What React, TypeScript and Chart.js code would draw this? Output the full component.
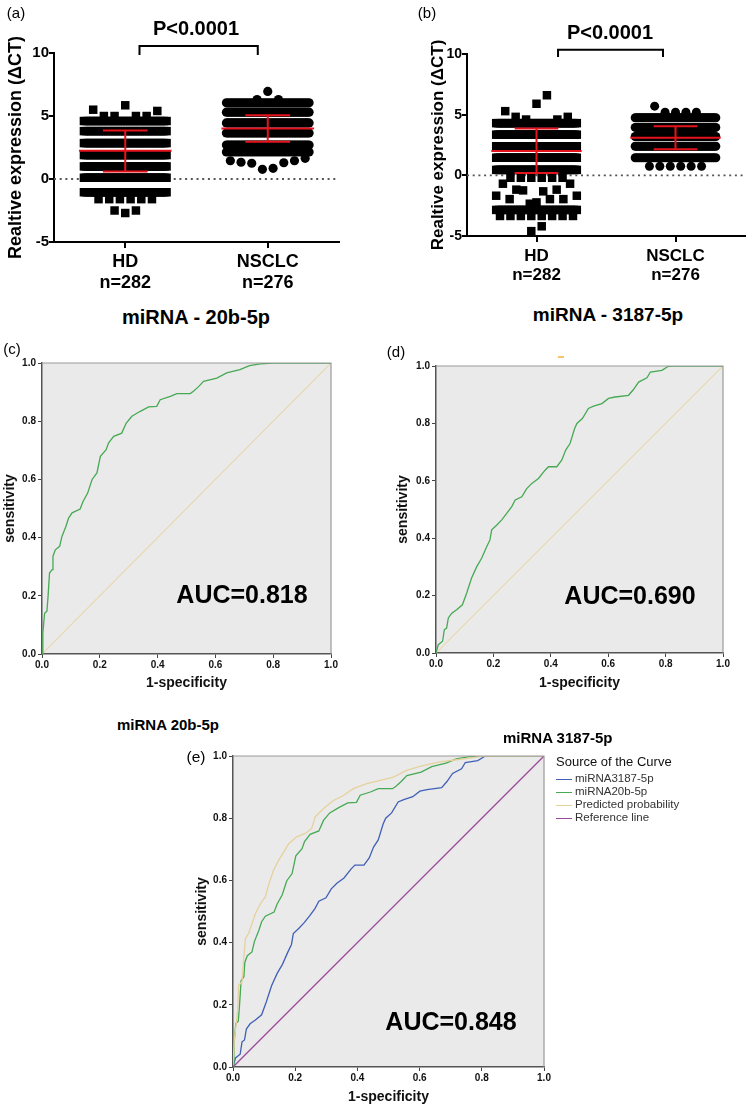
import React, { useEffect, useRef } from 'react';
import { Chart, registerables } from 'chart.js';

Chart.register(...registerables);

const FONT = 'Arial, "Liberation Sans", Helvetica, sans-serif';

// ---------------- data: dot plots ----------------
const groups = ['HD', 'NSCLC'];
const groupSizes = ['n=282', 'n=276'];
const dotTicks = [-5, 0, 5, 10];

// panel (a) miRNA-20b-5p : dense ΔCT rows (value, count) + sparse rows (values left to right)
const hdLevelsA = [4.6, 3.8, 2.85, 1.9, 1.0, 0.1, -1.05, -1.6];
const hdCountsA = [31, 35, 40, 40, 40, 40, 40, 6];
const hdSparseA = [
  [5.5, 5.0, 5.0, 5.85, 5.0, 5.0, 5.4],
  [-2.5, -2.7, -2.5],
];
const nsLevelsA = [6.05, 5.3, 4.45, 3.65, 2.7, 2.15];
const nsCountsA = [35, 48, 51, 51, 51, 29];
const nsSparseA = [
  [6.3, 6.95, 6.3],
  [1.45, 1.33, 1.25, 0.77, 0.85, 1.29, 1.45, 1.64],
];
const meansA = [2.25, 4.0];
const sdHighA = [3.85, 5.05];
const sdLowA = [0.6, 2.95];

// panel (b) miRNA-3187-5p
const hdLevelsB = [4.3, 3.35, 2.4, 1.45, 0.45, -0.2, -2.85, -3.35];
const hdCountsB = [41, 44, 44, 44, 45, 6, 28, 8];
const hdSparseB = [
  [5.29, 4.82, 4.6, 5.9, 6.6, 4.6, 4.82],
  [-1.68, -0.69, -1.96, -1.18, -1.24, -2.34, -2.23, -1.32, -1.96, -1.18, -1.96, -0.69, -1.68],
  [-4.6, -4.2],
];
const nsLevelsB = [4.75, 3.95, 3.2, 2.4, 1.45, 0.75];
const nsCountsB = [55, 60, 55, 55, 40, 6];
const nsSparseB = [[5.7, 5.2, 5.2, 5.2, 5.2]];
const meansB = [2.0, 3.1];
const sdHighB = [3.85, 4.05];
const sdLowB = [0.2, 2.15];

// ---------------- data: ROC curves ----------------
const rocTicks = [0, 0.2, 0.4, 0.6, 0.8, 1.0];
const fpr20b = [0, 0.003, 0.009, 0.017, 0.021, 0.026, 0.035, 0.038, 0.046, 0.061, 0.069, 0.083, 0.092, 0.104, 0.132, 0.142, 0.158, 0.173, 0.19, 0.202, 0.222, 0.23, 0.248, 0.276, 0.291, 0.311, 0.34, 0.369, 0.397, 0.409, 0.444, 0.467, 0.513, 0.524, 0.541, 0.559, 0.605, 0.639, 0.685, 0.718, 0.755, 0.8, 1];
const tpr20b = [0, 0.072, 0.14, 0.147, 0.198, 0.278, 0.29, 0.336, 0.358, 0.37, 0.404, 0.439, 0.467, 0.485, 0.498, 0.524, 0.553, 0.599, 0.622, 0.679, 0.702, 0.725, 0.748, 0.759, 0.793, 0.817, 0.834, 0.849, 0.851, 0.874, 0.885, 0.895, 0.895, 0.903, 0.918, 0.937, 0.948, 0.966, 0.977, 0.991, 0.997, 1, 1];
const fpr3187 = [0, 0.008, 0.023, 0.029, 0.037, 0.043, 0.055, 0.072, 0.092, 0.107, 0.124, 0.142, 0.159, 0.177, 0.188, 0.194, 0.212, 0.229, 0.247, 0.264, 0.276, 0.299, 0.316, 0.334, 0.357, 0.38, 0.392, 0.421, 0.438, 0.452, 0.467, 0.483, 0.491, 0.51, 0.531, 0.549, 0.578, 0.601, 0.624, 0.671, 0.688, 0.706, 0.735, 0.747, 0.787, 0.81, 0.826, 1];
const tpr3187 = [0, 0.029, 0.041, 0.081, 0.087, 0.122, 0.139, 0.151, 0.168, 0.209, 0.261, 0.301, 0.33, 0.371, 0.394, 0.429, 0.446, 0.464, 0.487, 0.51, 0.533, 0.544, 0.573, 0.591, 0.608, 0.637, 0.649, 0.649, 0.672, 0.707, 0.73, 0.782, 0.8, 0.817, 0.852, 0.86, 0.869, 0.887, 0.892, 0.898, 0.918, 0.944, 0.959, 0.979, 0.985, 0.999, 1, 1];
const fprPred = [0, 0.004, 0.011, 0.015, 0.018, 0.029, 0.034, 0.04, 0.05, 0.061, 0.072, 0.088, 0.104, 0.114, 0.13, 0.147, 0.163, 0.179, 0.205, 0.232, 0.253, 0.264, 0.291, 0.323, 0.355, 0.387, 0.43, 0.473, 0.516, 0.558, 0.601, 0.665, 0.719, 0.772, 0.804, 1];
const tprPred = [0, 0.086, 0.145, 0.182, 0.263, 0.273, 0.343, 0.413, 0.429, 0.461, 0.493, 0.525, 0.547, 0.584, 0.632, 0.665, 0.691, 0.718, 0.74, 0.751, 0.767, 0.804, 0.831, 0.857, 0.873, 0.895, 0.911, 0.922, 0.932, 0.954, 0.967, 0.981, 0.988, 0.995, 1, 1];
const fprRef = [0, 1];
const tprRef = [0, 1];

const legendLabels = ['miRNA3187-5p', 'miRNA20b-5p', 'Predicted probability', 'Reference line'];
const legendColors = ['#4060b6', '#46a953', '#e5d19c', '#9b4b97'];

// ---------------- helpers ----------------
const STEP = 0.075;
const MAX_HALF = 0.29;
const MEAN_HALF = 0.325;
const CAP_HALF = 0.157;

function placeRow(center: number, values: number[], pts: { x: number; y: number }[]) {
  const n = values.length;
  const half = Math.min(MAX_HALF, (STEP * (n - 1)) / 2);
  values.forEach((v, k) => {
    const off = n === 1 ? 0 : -half + (2 * half * k) / (n - 1);
    pts.push({ x: center + off, y: v });
  });
}

function swarm(center: number, levels: number[], counts: number[], sparse: number[][]) {
  const pts: { x: number; y: number }[] = [];
  levels.forEach((v, i) => placeRow(center, new Array(counts[i]).fill(v), pts));
  sparse.forEach((row) => placeRow(center, row, pts));
  return pts;
}

function zip(xs: number[], ys: number[]) {
  return xs.map((x, i) => ({ x, y: ys[i] }));
}

function segment(data: { x: number; y: number }[], color: string, width: number, order: number, extra: any = {}) {
  return {
    data,
    showLine: true,
    pointRadius: 0,
    borderColor: color,
    borderWidth: width,
    tension: 0,
    order,
    ...extra,
  };
}

function makeDotConfig(o: any) {
  const red = '#e5131c';
  const datasets: any[] = [];
  [1, 2].forEach((c, i) => {
    datasets.push(segment([{ x: c - MEAN_HALF, y: o.means[i] }, { x: c + MEAN_HALF, y: o.means[i] }], red, 2, 0));
    datasets.push(segment([{ x: c - CAP_HALF, y: o.hi[i] }, { x: c + CAP_HALF, y: o.hi[i] }], red, 2, 0));
    datasets.push(segment([{ x: c - CAP_HALF, y: o.lo[i] }, { x: c + CAP_HALF, y: o.lo[i] }], red, 2, 0));
    datasets.push(segment([{ x: c, y: o.lo[i] }, { x: c, y: o.hi[i] }], red, 2, 0));
  });
  datasets.push({
    data: swarm(1, o.hdLevels, o.hdCounts, o.hdSparse),
    pointStyle: 'rect',
    pointRadius: o.sqR,
    backgroundColor: '#000',
    borderWidth: 0,
    order: 1,
  });
  datasets.push({
    data: swarm(2, o.nsLevels, o.nsCounts, o.nsSparse),
    pointStyle: 'circle',
    pointRadius: o.cirR,
    backgroundColor: '#000',
    borderWidth: 0,
    order: 1,
  });
  datasets.push(segment([{ x: 0.5, y: 0 }, { x: 2.5, y: 0 }], '#555', 1.8, 2, { borderDash: [2, 3.7] }));
  const b = o.bracket;
  datasets.push(
    segment(
      [{ x: b[0], y: b[2] }, { x: b[0], y: b[3] }, { x: b[1], y: b[3] }, { x: b[1], y: b[2] }],
      '#000', 2, 0, { clip: false }
    )
  );
  return {
    type: 'scatter',
    data: { datasets },
    options: {
      responsive: false,
      animation: false,
      devicePixelRatio: 1,
      layout: { padding: { left: 0, top: o.T, right: o.R, bottom: 0 } },
      plugins: { legend: { display: false }, tooltip: { enabled: false } },
      scales: {
        x: {
          type: 'linear',
          min: 0.5,
          max: 2.5,
          afterBuildTicks: (a: any) => { a.ticks = [1, 2].map((v) => ({ value: v })); },
          afterFit: (s: any) => { s.height = o.H; },
          ticks: {
            callback: (v: number) => [groups[v - 1], groupSizes[v - 1]],
            font: { family: FONT, size: o.xLabSize, weight: 'bold', lineHeight: o.xLabLH },
            color: '#000',
            padding: o.xPad,
            maxRotation: 0,
            autoSkip: false,
          },
          grid: { drawOnChartArea: false, drawTicks: true, tickLength: 6, color: '#000', lineWidth: 2 },
          border: { display: true, color: '#000', width: 2 },
        },
        y: {
          type: 'linear',
          min: -5,
          max: 10,
          afterBuildTicks: (a: any) => { a.ticks = dotTicks.map((v) => ({ value: v })); },
          afterFit: (s: any) => { s.width = o.W; },
          ticks: {
            font: { family: FONT, size: o.tickSize, weight: 'bold' },
            color: '#000',
            padding: 0,
          },
          grid: { drawOnChartArea: false, drawTicks: true, tickLength: 5, color: '#000', lineWidth: 2 },
          border: { display: true, color: '#000', width: 2 },
          title: {
            display: true,
            text: 'Realtive expression (ΔCT)',
            font: { family: FONT, size: o.titleSize, weight: 'bold' },
            color: '#000',
            padding: { top: o.yTitlePad, bottom: 0 },
          },
        },
      },
    },
  };
}

const plotBg = {
  id: 'plotBg',
  beforeDraw(chart: any) {
    const { ctx, chartArea: a } = chart;
    ctx.save();
    ctx.fillStyle = '#ebeaeb';
    ctx.fillRect(a.left, a.top, a.right - a.left, a.bottom - a.top);
    ctx.restore();
  },
  afterDraw(chart: any) {
    const { ctx, chartArea: a } = chart;
    ctx.save();
    ctx.strokeStyle = '#9a9a9a';
    ctx.lineWidth = 1.2;
    ctx.beginPath();
    ctx.moveTo(a.left, a.top);
    ctx.lineTo(a.right, a.top);
    ctx.lineTo(a.right, a.bottom);
    ctx.stroke();
    ctx.restore();
  },
};

function makeRocConfig(o: any) {
  const datasets = o.curves.map((c: any, i: number) =>
    segment(zip(c.x, c.y), c.color, c.width || 1.3, c.order ?? i)
  );
  const tickFont = { family: FONT, size: 10, weight: 'bold' };
  const titleFont = { family: FONT, size: 14, weight: 'bold' };
  return {
    type: 'scatter',
    data: { datasets },
    plugins: [plotBg],
    options: {
      responsive: false,
      animation: false,
      devicePixelRatio: 1,
      layout: { padding: { left: 0, top: o.T, right: o.R, bottom: 0 } },
      plugins: { legend: { display: false }, tooltip: { enabled: false } },
      scales: {
        x: {
          type: 'linear',
          min: 0,
          max: 1,
          afterBuildTicks: (a: any) => { a.ticks = rocTicks.map((v) => ({ value: v })); },
          afterFit: (s: any) => { s.height = o.H; },
          ticks: { callback: (v: number) => v.toFixed(1), font: tickFont, color: '#111', padding: 1, maxRotation: 0 },
          grid: { drawOnChartArea: false, drawTicks: true, tickLength: 4, color: '#444', lineWidth: 1 },
          border: { display: true, color: '#555', width: 1.5 },
          title: { display: true, text: '1-specificity', font: titleFont, color: '#111', padding: { top: 0, bottom: o.xPad } },
        },
        y: {
          type: 'linear',
          min: 0,
          max: 1,
          afterBuildTicks: (a: any) => { a.ticks = rocTicks.map((v) => ({ value: v })); },
          afterFit: (s: any) => { s.width = o.W; },
          ticks: { callback: (v: number) => v.toFixed(1), font: tickFont, color: '#111', padding: 2 },
          grid: { drawOnChartArea: false, drawTicks: true, tickLength: 4, color: '#444', lineWidth: 1 },
          border: { display: true, color: '#555', width: 1.5 },
          title: { display: true, text: 'sensitivity', font: titleFont, color: '#111', padding: { top: o.yPad, bottom: 0 } },
        },
      },
    },
  };
}

function ChartBox({ left, top, width, height, config }: any) {
  const ref = useRef<HTMLCanvasElement | null>(null);
  useEffect(() => {
    const c = new Chart(ref.current as HTMLCanvasElement, config);
    return () => c.destroy();
  }, []);
  return (
    <div style={{ position: 'absolute', left, top, width, height }}>
      <canvas ref={ref} width={width} height={height} style={{ width, height, display: 'block' }} />
    </div>
  );
}

function T({ x, y, size, bold = false, align = 'center', color = '#000', children }: any) {
  const tx = align === 'center' ? '-50%' : align === 'right' ? '-100%' : '0';
  return (
    <div
      style={{
        position: 'absolute',
        left: x,
        top: y,
        transform: `translate(${tx}, -50%)`,
        fontFamily: FONT,
        fontSize: size,
        fontWeight: bold ? 700 : 400,
        lineHeight: 1,
        whiteSpace: 'nowrap',
        color,
      }}
    >
      {children}
    </div>
  );
}

const configA = makeDotConfig({
  hdLevels: hdLevelsA, hdCounts: hdCountsA, hdSparse: hdSparseA,
  nsLevels: nsLevelsA, nsCounts: nsCountsA, nsSparse: nsSparseA,
  means: meansA, hi: sdHighA, lo: sdLowA,
  W: 54, T: 53, R: 36, H: 58, yTitlePad: 5.2, titleSize: 18, tickSize: 15,
  xLabSize: 18, xLabLH: 1.2, xPad: 3, sqR: 6, cirR: 4.6, bracket: [1.1, 1.93, 9.85, 10.55],
});
const configB = makeDotConfig({
  hdLevels: hdLevelsB, hdCounts: hdCountsB, hdSparse: hdSparseB,
  nsLevels: nsLevelsB, nsCounts: nsCountsB, nsSparse: nsSparseB,
  means: meansB, hi: sdHighB, lo: sdLowB,
  W: 92, T: 54, R: 6, H: 64, yTitlePad: 52.8, titleSize: 17, tickSize: 14,
  xLabSize: 17, xLabLH: 1.1, xPad: 5, sqR: 6, cirR: 4.5, bracket: [1.155, 1.91, 9.75, 10.35],
});
const configC = makeRocConfig({
  W: 42, T: 33, R: 44, H: 46, yPad: 1.6, xPad: 8.6,
  curves: [
    { x: fpr20b, y: tpr20b, color: '#46a953', order: 0 },
    { x: fprRef, y: tprRef, color: '#e8d6ad', order: 1, width: 1.1 },
  ],
});
const configD = makeRocConfig({
  W: 61, T: 36, R: 28, H: 47, yPad: 19.6, xPad: 8.6,
  curves: [
    { x: fpr3187, y: tpr3187, color: '#46a953', order: 0 },
    { x: fprRef, y: tprRef, color: '#e8d6ad', order: 1, width: 1.1 },
  ],
});
const configE = makeRocConfig({
  W: 53, T: 16, R: 16, H: 40, yPad: 13.6, xPad: 1.6,
  curves: [
    { x: fpr3187, y: tpr3187, color: legendColors[0], order: 3 },
    { x: fpr20b, y: tpr20b, color: legendColors[1], order: 2 },
    { x: fprPred, y: tprPred, color: legendColors[2], order: 1 },
    { x: fprRef, y: tprRef, color: legendColors[3], order: 0 },
  ],
});

export default function App() {
  useEffect(() => {
    document.body.style.margin = '0';
  }, []);
  return (
    <div style={{ position: 'relative', width: 751, height: 1107, background: '#fff', overflow: 'hidden' }}>
      <ChartBox left={0} top={0} width={375} height={300} config={configA} />
      <ChartBox left={375} top={0} width={376} height={300} config={configB} />
      <ChartBox left={0} top={330} width={375} height={370} config={configC} />
      <ChartBox left={375} top={330} width={376} height={370} config={configD} />
      <ChartBox left={180} top={740} width={380} height={367} config={configE} />

      <T x={16} y={12} size={15}>(a)</T>
      <T x={427} y={12} size={15}>(b)</T>
      <T x={196} y={28} size={20} bold>P&lt;0.0001</T>
      <T x={610} y={32} size={20} bold>P&lt;0.0001</T>
      <T x={196} y={317} size={20} bold>miRNA - 20b-5p</T>
      <T x={608} y={314} size={19} bold>miRNA - 3187-5p</T>

      <T x={12} y={348} size={15}>(c)</T>
      <T x={396} y={351} size={15}>(d)</T>
      <div style={{ position: 'absolute', left: 558, top: 356, width: 6, height: 2, background: '#f7c46c' }} />
      <T x={242} y={594} size={25} bold>AUC=0.818</T>
      <T x={630} y={595} size={25} bold>AUC=0.690</T>

      <T x={219} y={724} size={15} bold align="right">miRNA 20b-5p</T>
      <T x={503} y={737} size={15} bold align="left">miRNA 3187-5p</T>
      <T x={196} y={757} size={15.5}>(e)</T>
      <T x={451} y={1021} size={25} bold>AUC=0.848</T>

      <T x={556} y={761} size={13} align="left" color="#111">Source of the Curve</T>
      {legendLabels.map((lab, i) => (
        <React.Fragment key={lab}>
          <div style={{ position: 'absolute', left: 556, top: 779 + i * 13 - 0.5, width: 16, height: 1.3, background: legendColors[i] }} />
          <T x={575} y={779 + i * 13} size={11.5} align="left" color="#333">{lab}</T>
        </React.Fragment>
      ))}
    </div>
  );
}
